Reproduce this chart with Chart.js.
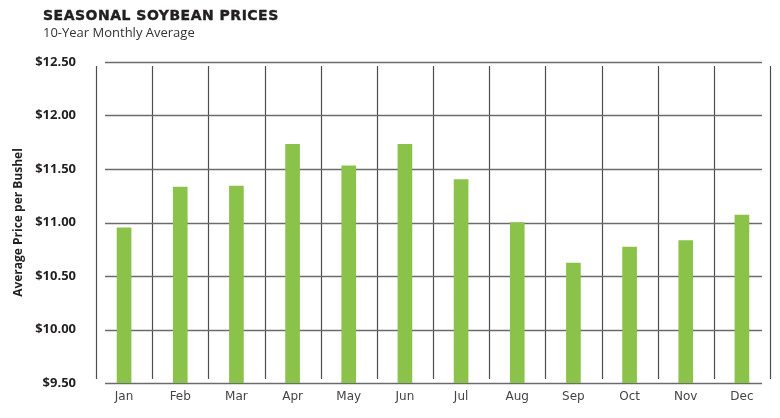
<!DOCTYPE html>
<html>
<head>
<meta charset="utf-8">
<script src="https://cdn.jsdelivr.net/npm/chart.js@4.4.1/dist/chart.umd.min.js"></script>
<style>
  html, body { margin: 0; padding: 0; background: #fff; }
  #wrap { position: relative; width: 780px; height: 418px; }
  #chart { position: absolute; left: 0; top: 0; }
  #title { position: absolute; left: 43px; top: 7px; font-family: "DejaVu Sans", sans-serif; font-weight: bold; font-size: 14px; color: #231f20; letter-spacing: 0.5px; -webkit-text-stroke: 0.4px #231f20; }
  #subtitle { position: absolute; left: 43px; top: 23px; font-family: "Open Sans", sans-serif; font-size: 13px; color: #333; }
</style>
</head>
<body>
<div id="wrap">
  <canvas id="chart" width="780" height="418"></canvas>
  <div id="title">SEASONAL SOYBEAN PRICES</div>
  <div id="subtitle">10-Year Monthly Average</div>
</div>
<script>
const months = ['Jan', 'Feb', 'Mar', 'Apr', 'May', 'Jun', 'Jul', 'Aug', 'Sep', 'Oct', 'Nov', 'Dec'];
const avgPrice = [10.95, 11.33, 11.34, 11.73, 11.53, 11.73, 11.40, 11.00, 10.62, 10.77, 10.83, 11.07];
const yMin = 9.5;
const yMax = 12.5;
const yStep = 0.5;
const yAxisTitle = 'Average Price per Bushel';

const gridPlugin = {
  id: 'customGrid',
  beforeDatasetsDraw(chart) {
    const { ctx, chartArea, scales } = chart;
    const x = scales.x, y = scales.y;
    ctx.save();
    ctx.strokeStyle = '#4d4d4d';
    ctx.lineWidth = 1.2;
    for (let i = 0; i <= months.length; i++) {
      const px = Math.round(x.getPixelForValue(i - 0.5)) + 0.5;
      ctx.beginPath();
      ctx.moveTo(px, chartArea.top + 4);
      ctx.lineTo(px, chartArea.bottom - 4);
      ctx.stroke();
    }
    ctx.strokeStyle = '#6b6b6b';
    ctx.lineWidth = 1.3;
    y.ticks.forEach(t => {
      const py = Math.round(y.getPixelForValue(t.value)) + 0.5;
      ctx.beginPath();
      ctx.moveTo(chartArea.left + 9, py);
      ctx.lineTo(chartArea.right - 8, py);
      ctx.stroke();
    });
    ctx.restore();
  }
};

new Chart(document.getElementById('chart'), {
  type: 'bar',
  data: {
    labels: months,
    datasets: [{
      data: avgPrice,
      backgroundColor: '#8bc34a',
      borderWidth: 0,
      barThickness: 14
    }]
  },
  options: {
    responsive: false,
    animation: false,
    layout: { padding: { top: 62, right: 10, bottom: 0, left: 0 } },
    plugins: { legend: { display: false }, tooltip: { enabled: false } },
    scales: {
      x: {
        grid: { display: false, drawTicks: false },
        border: { display: false },
        ticks: { color: '#444', font: { family: 'DejaVu Sans', size: 12 }, padding: 7 },
        afterFit(scale) { scale.height = 35; }
      },
      y: {
        min: yMin,
        max: yMax,
        grid: { display: false, drawTicks: false },
        border: { display: false },
        ticks: {
          stepSize: yStep,
          padding: 20,
          color: '#231f20',
          font: { family: 'Open Sans', size: 13, weight: 'bold' },
          callback: v => '$' + Number(v).toFixed(2)
        },
        title: {
          display: true,
          text: yAxisTitle,
          color: '#231f20',
          font: { family: 'Open Sans', size: 12, weight: 'bold' },
          padding: { top: 11, bottom: 0 }
        },
        afterFit(scale) { scale.width = 96; }
      }
    }
  },
  plugins: [gridPlugin]
});
</script>
</body>
</html>
